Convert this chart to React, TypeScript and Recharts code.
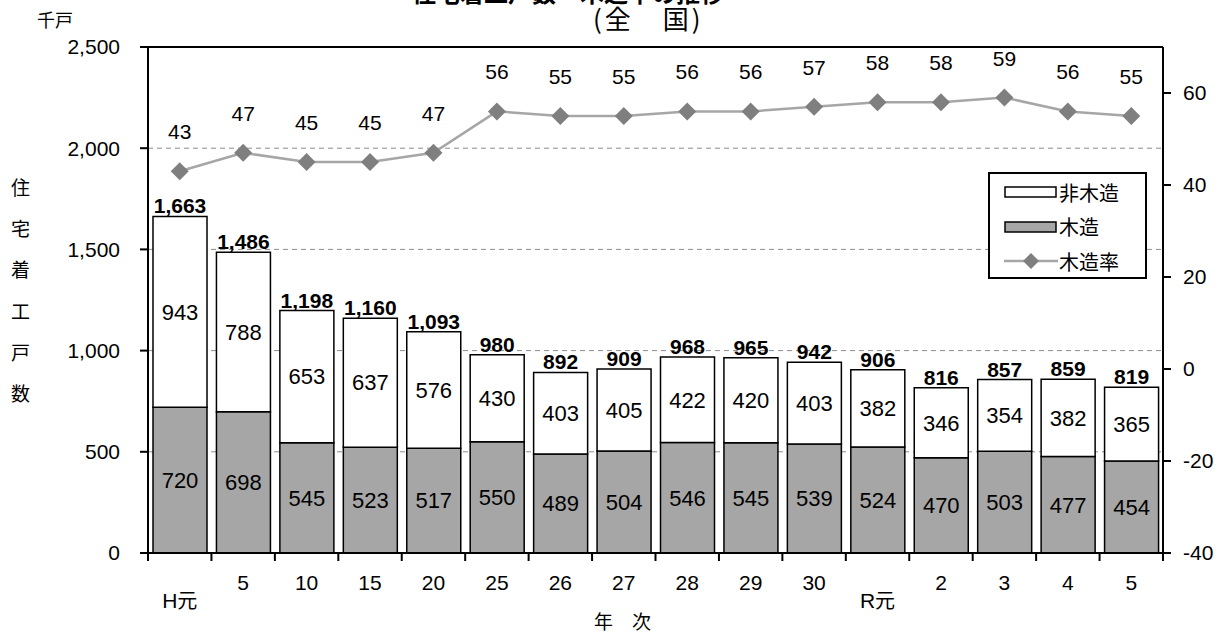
import React from 'react'
import {
  ComposedChart, Bar, Line, XAxis, YAxis, CartesianGrid,
  ReferenceLine, LabelList,
} from 'recharts'

const categories = ['H元', '5', '10', '15', '20', '25', '26', '27', '28', '29', '30', 'R元', '2', '3', '4', '5']
const wood = [720, 698, 545, 523, 517, 550, 489, 504, 546, 545, 539, 524, 470, 503, 477, 454]
const nonwood = [943, 788, 653, 637, 576, 430, 403, 405, 422, 420, 403, 382, 346, 354, 382, 365]
const totals = [1663, 1486, 1198, 1160, 1093, 980, 892, 909, 968, 965, 942, 906, 816, 857, 859, 819]
const woodRate = [43, 47, 45, 45, 47, 56, 55, 55, 56, 56, 57, 58, 58, 59, 56, 55]
const leftTicks = [0, 500, 1000, 1500, 2000, 2500]
const rightTicks = [-40, -20, 0, 20, 40, 60]

const W = 1228
const H = 639
const PLOT_LEFT = 148
const PLOT_RIGHT = 1163
const BAND = (PLOT_RIGHT - PLOT_LEFT) / categories.length

const NUM_FONT = '"Liberation Sans", Arial, sans-serif'
const JP_FONT = '"Noto Sans CJK JP", "Liberation Sans", sans-serif'

const data = categories.map((c, i) => ({
  key: String(i),
  label: c,
  wood: wood[i],
  nonwood: nonwood[i],
  total: totals[i],
  rate: woodRate[i],
}))

// 区切り位置に目盛線、ラベルは中央
function XTick(props: any) {
  const { x, y, payload, index } = props
  const i = payload.index ?? index
  const label = categories[i] ?? ''
  const axisY = y - 8
  const isGengo = label.includes('元')
  const left = x - BAND / 2
  return (
    <g>
      <line x1={left} y1={axisY} x2={left} y2={axisY + 8} stroke="#000" strokeWidth={2} />
      {i === categories.length - 1 && (
        <line x1={x + BAND / 2} y1={axisY} x2={x + BAND / 2} y2={axisY + 8} stroke="#000" strokeWidth={2} />
      )}
      {isGengo ? (
        <text x={x} y={axisY + 55} textAnchor="middle" fontSize={21} fill="#000">
          <tspan fontFamily={NUM_FONT}>{label.slice(0, 1)}</tspan>
          <tspan fontFamily={JP_FONT} fontSize={20}>{label.slice(1)}</tspan>
        </text>
      ) : (
        <text x={x} y={axisY + 37} textAnchor="middle" fontSize={21} fill="#000" fontFamily={NUM_FONT}>
          {label}
        </text>
      )}
    </g>
  )
}

function Diamond(props: any) {
  const { cx, cy } = props
  if (cx == null || cy == null) return null
  const r = 9
  return (
    <polygon
      points={`${cx},${cy - r} ${cx + r},${cy} ${cx},${cy + r} ${cx - r},${cy}`}
      fill="#7f7f7f"
    />
  )
}

function RateLabel(props: any) {
  const { x, y, value } = props
  return (
    <text x={x} y={y - 32} textAnchor="middle" fontSize={21} fill="#000" fontFamily={NUM_FONT}>
      {value}
    </text>
  )
}

const fmt = (v: any) => Number(v).toLocaleString('en-US')

const abs = (x: number, y: number, extra: React.CSSProperties = {}): React.CSSProperties => ({
  position: 'absolute', left: x, top: y, fontFamily: JP_FONT, color: '#000', lineHeight: 1, ...extra,
})

export default function App() {
  return (
    <div style={{ position: 'absolute', left: 0, top: 0, width: W, height: H, background: '#fff', overflow: 'hidden' }}>
      {/* タイトル（上部が切れている） */}
      <div style={abs(412, -20, { fontSize: 24, fontWeight: 700, whiteSpace: 'nowrap' })}>
        住宅着工戸数・木造率の推移
      </div>
      <div style={abs(593, 5, { fontSize: 26, letterSpacing: 3, whiteSpace: 'pre' })}>(全　国)</div>
      <div style={abs(37, 10, { fontSize: 18 })}>千戸</div>
      {['住', '宅', '着', '工', '戸', '数'].map((ch, i) => (
        <div key={i} style={abs(11, 177 + i * 41.2, { fontSize: 19 })}>{ch}</div>
      ))}
      <div style={abs(594, 611, { fontSize: 19, whiteSpace: 'pre' })}>年　次</div>

      <ComposedChart
        width={W} height={H} data={data}
        margin={{ top: 47, right: 0, bottom: 26, left: 0 }}
        style={{ position: 'absolute', left: 0, top: 0 }}
      >
        <CartesianGrid vertical={false} stroke="#8c8c8c" strokeDasharray="5 4" yAxisId="left" />
        <XAxis
          dataKey="key" height={60} interval={0}
          tick={<XTick />} tickLine={false} tickSize={8} tickMargin={0}
          axisLine={{ stroke: '#000', strokeWidth: 2 }}
        />
        <YAxis
          yAxisId="left" width={PLOT_LEFT} domain={[0, 2500]} ticks={leftTicks}
          tickFormatter={fmt} tickSize={8} tickMargin={20}
          tick={{ fontSize: 21, fill: '#000', fontFamily: NUM_FONT }}
          tickLine={{ stroke: '#000', strokeWidth: 2 }}
          axisLine={{ stroke: '#000', strokeWidth: 2 }}
        />
        <YAxis
          yAxisId="right" orientation="right" width={W - PLOT_RIGHT}
          domain={[-40, 70]} ticks={rightTicks} tickSize={8} tickMargin={12}
          tick={{ fontSize: 21, fill: '#000', fontFamily: NUM_FONT }}
          tickLine={{ stroke: '#000', strokeWidth: 2 }}
          axisLine={{ stroke: '#000', strokeWidth: 2 }}
        />
        <ReferenceLine yAxisId="left" y={2500} stroke="#000" strokeWidth={2} />

        <Bar yAxisId="left" dataKey="wood" stackId="s" barSize={54}
          fill="#a6a6a6" stroke="#000" strokeWidth={1.5} isAnimationActive={false}>
          <LabelList dataKey="wood" position="center" fontSize={22} fill="#000" fontFamily={NUM_FONT} />
        </Bar>
        <Bar yAxisId="left" dataKey="nonwood" stackId="s" barSize={54}
          fill="#fff" stroke="#000" strokeWidth={1.5} isAnimationActive={false}>
          <LabelList dataKey="nonwood" position="center" fontSize={22} fill="#000" fontFamily={NUM_FONT} />
          <LabelList dataKey="total" position="top" offset={3} formatter={fmt}
            fontSize={21} fontWeight={700} fill="#000" fontFamily={NUM_FONT} />
        </Bar>
        <Line yAxisId="right" dataKey="rate" stroke="#a6a6a6" strokeWidth={2.5}
          dot={<Diamond />} activeDot={false} isAnimationActive={false}>
          <LabelList dataKey="rate" content={<RateLabel />} />
        </Line>
      </ComposedChart>

      {/* 凡例 */}
      <div style={{
        position: 'absolute', left: 988, top: 172, width: 159, height: 107,
        border: '2px solid #000', background: '#fff', boxSizing: 'border-box',
      }}>
        {[
          { label: '非木造', kind: 'white' },
          { label: '木造', kind: 'gray' },
          { label: '木造率', kind: 'line' },
        ].map((e, i) => (
          <div key={e.label} style={{ position: 'absolute', left: 14, top: 3 + i * 34.5, height: 30, display: 'flex', alignItems: 'center' }}>
            <svg width={54} height={20}>
              {e.kind === 'line' ? (
                <g>
                  <line x1={0} y1={10} x2={54} y2={10} stroke="#a6a6a6" strokeWidth={2.5} />
                  <polygon points="27,2 35,10 27,18 19,10" fill="#7f7f7f" />
                </g>
              ) : (
                <rect x={1} y={5} width={51} height={10}
                  fill={e.kind === 'white' ? '#fff' : '#a6a6a6'} stroke="#000" strokeWidth={1.5} />
              )}
            </svg>
            <span style={{ fontFamily: JP_FONT, fontSize: 20, marginLeft: 1 }}>{e.label}</span>
          </div>
        ))}
      </div>
    </div>
  )
}
